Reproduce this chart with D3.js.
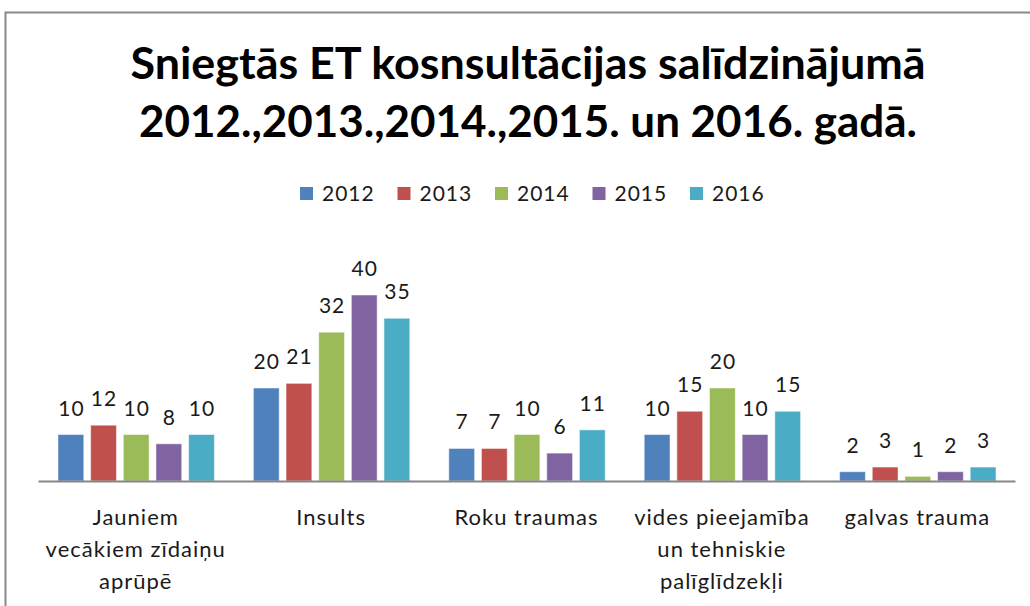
<!DOCTYPE html>
<html>
<head>
<meta charset="utf-8">
<script src="https://cdn.jsdelivr.net/npm/d3@7"></script>
<style>
  body { margin: 0; background: #fff; }
  text { font-family: Lato, "Open Sans", sans-serif; }
</style>
</head>
<body>
<div id="chart"></div>
<script>
// Categories (line breaks as in the picture)
var categories = [
  "Jauniem\nvecākiem zīdaiņu\naprūpē",
  "Insults",
  "Roku traumas",
  "vides pieejamība\nun tehniskie\npalīglīdzekļi",
  "galvas trauma"
];
var years = ["2012", "2013", "2014", "2015", "2016"];

// one array per year, in category order
var v2012 = [10, 20, 7, 10, 2];
var v2013 = [12, 21, 7, 15, 3];
var v2014 = [10, 32, 10, 20, 1];
var v2015 = [8, 40, 6, 10, 2];
var v2016 = [10, 35, 11, 15, 3];

var titleLines = [
  "Sniegtās ET kosnsultācijas salīdzinājumā",
  "2012.,2013.,2014.,2015. un 2016. gadā."
];

var colors = ["#4F81BD", "#C0504D", "#9BBB59", "#8064A2", "#4BACC6"];

var width = 1030, height = 606;
var series = [v2012, v2013, v2014, v2015, v2016];

var svg = d3.select("#chart").append("svg")
    .attr("width", width)
    .attr("height", height);

// chart area border (only top and left visible in the crop)
svg.append("rect")
    .attr("x", 5.5).attr("y", 12.5)
    .attr("width", 1100).attr("height", 700)
    .attr("fill", "#fff")
    .attr("stroke", "#898989")
    .attr("stroke-width", 2);

// Title
svg.selectAll("text.title")
    .data(titleLines)
  .enter().append("text")
    .attr("class", "title")
    .attr("x", 528)
    .attr("y", function(d, i) { return 79 + i * 58; })
    .attr("text-anchor", "middle")
    .attr("font-size", 43)
    .attr("font-weight", "bold")
    .attr("fill", "#000")
    .attr("textLength", function(d, i) { return i === 0 ? 795 : 778; })
    .attr("lengthAdjust", "spacingAndGlyphs")
    .text(function(d) { return d; });

// Legend
var legend = svg.selectAll("g.legend")
    .data(years)
  .enter().append("g")
    .attr("class", "legend")
    .attr("transform", function(d, i) { return "translate(" + (300 + i * 97.5) + ",187)"; });

legend.append("rect")
    .attr("width", 13).attr("height", 13)
    .attr("fill", function(d, i) { return colors[i]; });

legend.append("text")
    .attr("x", 22).attr("y", 14)
    .attr("font-size", 21)
    .attr("letter-spacing", 1)
    .attr("fill", "#1a1a1a")
    .text(function(d) { return d; });

// Scales
var x0 = d3.scaleBand()
    .domain(categories)
    .range([38, 1015]);

var x1 = d3.scaleBand()
    .domain(years)
    .range([20, x0.bandwidth() - 19])
    .paddingInner(0.21);

var y = d3.scaleLinear()
    .domain([0, 40])
    .range([481, 295]);

// Bars
var groups = svg.selectAll("g.cat")
    .data(categories)
  .enter().append("g")
    .attr("class", "cat")
    .attr("transform", function(d) { return "translate(" + x0(d) + ",0)"; });

groups.selectAll("rect")
    .data(function(d, ci) {
      return years.map(function(yr, si) { return { year: yr, si: si, value: series[si][ci] }; });
    })
  .enter().append("rect")
    .attr("x", function(d) { return x1(d.year); })
    .attr("y", function(d) { return y(d.value); })
    .attr("width", x1.bandwidth())
    .attr("height", function(d) { return y(0) - y(d.value); })
    .attr("fill", function(d) { return colors[d.si]; })
    .attr("stroke", "#fff")
    .attr("stroke-opacity", 0.5)
    .attr("stroke-width", 1);

// Value labels
groups.selectAll("text.val")
    .data(function(d, ci) {
      return years.map(function(yr, si) { return { year: yr, value: series[si][ci] }; });
    })
  .enter().append("text")
    .attr("class", "val")
    .attr("x", function(d) { return x1(d.year) + x1.bandwidth() / 2 + 0.5; })
    .attr("y", function(d) { return y(d.value) - 19; })
    .attr("text-anchor", "middle")
    .attr("font-size", 21)
    .attr("letter-spacing", 1)
    .attr("fill", "#1a1a1a")
    .text(function(d) { return d.value; });

// X axis
var xAxis = svg.append("g")
    .attr("transform", "translate(0," + y(0) + ")")
    .call(d3.axisBottom(x0).tickSize(0).tickFormat(""));

xAxis.select(".domain")
    .attr("stroke", "#868686")
    .attr("stroke-width", 2);

xAxis.selectAll(".tick").each(function(d) {
  var t = d3.select(this).append("text")
      .attr("text-anchor", "middle")
      .attr("font-size", 22)
      .attr("letter-spacing", 1)
      .attr("fill", "#1a1a1a");
  d.split("\n").forEach(function(line, i) {
    t.append("tspan")
        .attr("x", 0)
        .attr("y", 44 + i * 32)
        .text(line);
  });
});
</script>
</body>
</html>
